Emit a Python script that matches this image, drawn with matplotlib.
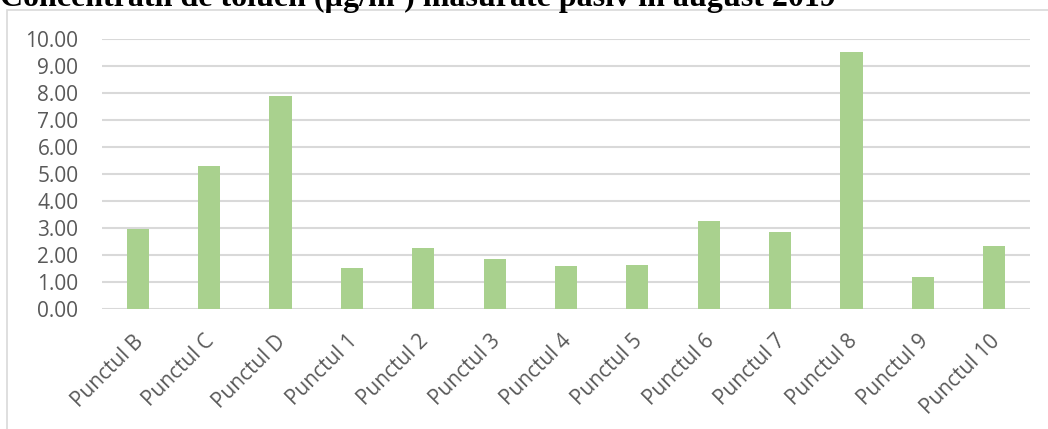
import numpy as np
import matplotlib.pyplot as plt
from matplotlib.patches import Rectangle
from matplotlib.transforms import ScaledTranslation

puncte = ['Punctul B', 'Punctul C', 'Punctul D', 'Punctul 1', 'Punctul 2',
          'Punctul 3', 'Punctul 4', 'Punctul 5', 'Punctul 6', 'Punctul 7',
          'Punctul 8', 'Punctul 9', 'Punctul 10']
toluen = [2.94, 5.29, 7.90, 1.50, 2.25, 1.83, 1.60, 1.62, 3.25, 2.86, 9.51, 1.19, 2.33]
y_ticks = [0, 1, 2, 3, 4, 5, 6, 7, 8, 9, 10]

fig = plt.figure(figsize=(10.48, 4.29), dpi=100)

# chart area frame
fig.patches.append(Rectangle((7 / 1048, -0.1), 1.2, 1 - 10 / 429 + 0.1,
                             transform=fig.transFigure, fill=False,
                             edgecolor='#d9d9d9', linewidth=1.2))

fig.text(0.0, 1 - 6 / 429, 'Concentratii de toluen (\u00b5g/m\u00b3) masurate pasiv in august 2019',
         family='Liberation Serif', weight='bold', fontsize=23, va='baseline', ha='left')

ax = fig.add_axes([102 / 1048, 1 - 308.7 / 429, (1030 - 102) / 1048, (308.7 - 39) / 429])
x = np.arange(len(puncte))
ax.bar(x, toluen, width=0.31, color='#a9d18e', zorder=3)

ax.set_xlim(-0.5, len(puncte) - 0.5)
ax.set_ylim(0, 10)
ax.set_yticks(y_ticks)
ax.set_yticklabels([f'{v:.2f}' for v in y_ticks])
ax.yaxis.grid(True, color='#d9d9d9', linewidth=1.5, zorder=0)
ax.set_axisbelow(True)
for s in ax.spines.values():
    s.set_visible(False)
ax.tick_params(axis='both', length=0, colors='#595959', labelsize=15)
ax.tick_params(axis='y', pad=17)
ax.set_xticks(x)
ax.set_xticklabels(puncte, rotation=45, ha='right', rotation_mode='anchor')
ax.tick_params(axis='x', pad=16)
shift = ScaledTranslation(-5 / 100, 0, fig.dpi_scale_trans)
for lbl in ax.get_xticklabels():
    lbl.set_transform(lbl.get_transform() + shift)
for lbl in ax.get_xticklabels() + ax.get_yticklabels():
    lbl.set_family('Open Sans')

fig.savefig('out.png', dpi=100)
